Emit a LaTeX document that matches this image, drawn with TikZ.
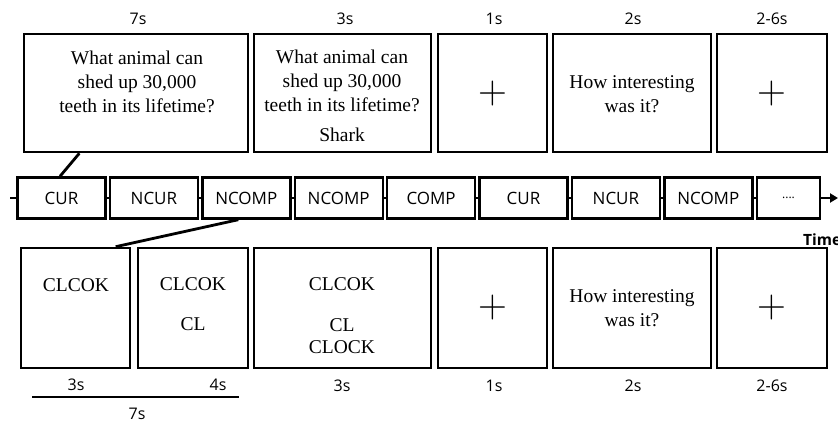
\documentclass[tikz,border=0pt]{standalone}
\usepackage{fontspec}
\setmainfont{Liberation Serif}
\newfontfamily\labfont{Open Sans}
\newfontfamily\lmfont{Latin Modern Roman}
\usetikzlibrary{arrows.meta,calc}
\begin{document}
\begin{tikzpicture}[x=1pt,y=-1pt,
  screen/.style={draw, line width=2.6pt, minimum height=118pt, inner sep=0pt, fill=white},
  lowscreen/.style={screen, minimum height=120pt},
  trial/.style={draw, line width=2.4pt, minimum width=88pt, minimum height=41pt, inner sep=0pt, fill=white,
    font=\labfont\fontsize{17}{20}\selectfont},
  stim/.style={align=center, inner sep=0pt, font=\fontsize{19.5}{24}\selectfont},
  fix/.style={inner sep=0pt, font=\lmfont\fontsize{40}{40}\selectfont},
  dur/.style={inner sep=0pt, font=\labfont\fontsize{16}{19}\selectfont},
  timeline/.style={line width=2.4pt},
  zoomline/.style={line width=2.8pt},
  spanline/.style={line width=2pt}]
\useasboundingbox (0,0) rectangle (838,423);

% top row of screens
\node[screen, minimum width=224pt] (T1) at (136,93) {};
\node[screen, minimum width=177pt] (T2) at (342.5,93) {};
\node[screen, minimum width=109pt] (T3) at (492.5,93) {};
\node[screen, minimum width=158pt] (T4) at (632,93) {};
\node[screen, minimum width=110pt] (T5) at (772,93) {};

\node[stim] (t1q) at (137,82) {What animal can\\shed up 30,000\\teeth in its lifetime?};
\node[stim] (t2q) at (342,81) {What animal can\\shed up 30,000\\teeth in its lifetime?};
\node[stim] (t2a) at (342,135) {Shark};
\node[fix] (t3f) at (493,94) {+};
\node[stim] (t4q) at (632,94) {How interesting\\was it?};
\node[fix] (t5f) at (772,94) {+};

\node[dur] (d1) at (138,19) {7s};
\node[dur] (d2) at (345,19) {3s};
\node[dur] (d3) at (494,19) {1s};
\node[dur] (d4) at (633,19) {2s};
\node[dur] (d5) at (772,19) {2-6s};

% middle time line
\coordinate (tstart) at (10,198);
\coordinate (tend) at (838,198);
\node[trial] (M1) at (61.5,198) {CUR};
\node[trial] (M2) at (153.9,198) {NCUR};
\node[trial] (M3) at (246.3,198) {NCOMP};
\node[trial] (M4) at (338.7,198) {NCOMP};
\node[trial] (M5) at (431.1,198) {COMP};
\node[trial] (M6) at (523.5,198) {CUR};
\node[trial] (M7) at (615.9,198) {NCUR};
\node[trial] (M8) at (708.3,198) {NCOMP};
\node[trial, minimum width=63pt, font=\labfont\fontsize{12}{14}\selectfont] (M9) at (788.5,198) {....};

\draw[timeline] (tstart) -- (M1);
\foreach \a/\b in {M1/M2,M2/M3,M3/M4,M4/M5,M5/M6,M6/M7,M7/M8,M8/M9}
  \draw[timeline] (\a) -- (\b);
\draw[timeline, -{Triangle[length=8pt,width=9pt]}] (M9) -- (tend);
\node[anchor=base west, inner sep=0pt, font=\labfont\bfseries\fontsize{15.5}{18}\selectfont] (time) at (803,245) {Time};

% bottom row of screens
\node[lowscreen, minimum width=109pt] (B1) at (75.5,308) {};
\node[lowscreen, minimum width=110pt] (B2) at (193,308) {};
\node[lowscreen, minimum width=177pt] (B3) at (342.5,308) {};
\node[lowscreen, minimum width=109pt] (B4) at (492.5,308) {};
\node[lowscreen, minimum width=158pt] (B5) at (632,308) {};
\node[lowscreen, minimum width=110pt] (B6) at (772,308) {};

\node[stim] (b1a) at (76,285) {CLCOK};
\node[stim] (b2a) at (193,284) {CLCOK};
\node[stim] (b2b) at (193,324) {CL};
\node[stim] (b3a) at (342,284) {CLCOK};
\node[stim] (b3b) at (342,325) {CL};
\node[stim] (b3c) at (342,347) {CLOCK};
\node[fix] (b4f) at (493,308) {+};
\node[stim] (b5q) at (632,308) {How interesting\\was it?};
\node[fix] (b6f) at (772,308) {+};

\node[dur] (e1) at (76,385) {3s};
\node[dur] (e2) at (218,385) {4s};
\node[dur] (e3) at (342,386) {3s};
\node[dur] (e4) at (494,386) {1s};
\node[dur] (e5) at (633,386) {2s};
\node[dur] (e6) at (772,386) {2-6s};
\coordinate (s1) at (32,397);
\coordinate (s2) at (239,397);
\draw[spanline] (s1) -- (s2);
\node[dur] (e7) at (137,414) {7s};

% zoom connectors
\draw[zoomline] ($(T1.south west)!0.25!(T1.south east)$) -- ($(M1.north)+(-1.5,0)$);
\draw[zoomline] ($(M3.south)+(-8,0)$) -- ($(B1.north west)!0.86!(B1.north east)$);
\end{tikzpicture}
\end{document}
